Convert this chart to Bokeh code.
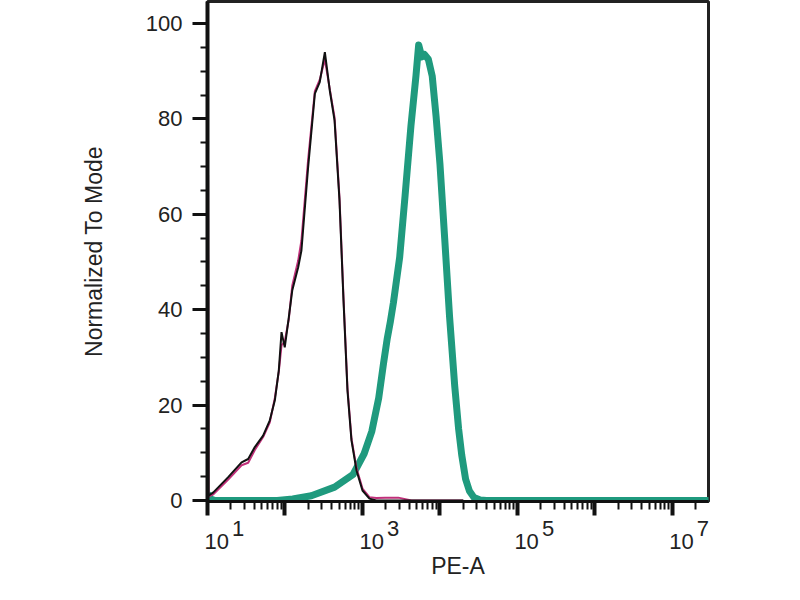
from bokeh.plotting import figure
from bokeh.models import Range1d, FixedTicker
from bokeh.embed import file_html
from bokeh.resources import INLINE

# PE-A intensity (x) and % of mode (y) for each histogram
black_x = [10.1, 10.3, 11.9, 18.5, 27.5, 33.5, 40.8, 52.2, 63.7, 74.0, 83.2, 90.2, 99.3, 112, 124, 148, 163,
           199, 243, 281, 327, 378, 436, 505, 569, 640, 721, 837, 1000, 1230, 1510, 20000]
black_y = [100, 1.0, 1.7, 4.9, 8.0, 8.7, 11.2, 13.6, 16.8, 21.0, 27.3, 35.3, 32.1, 38.4, 44.0, 48.9, 52.4,
           69.9, 85.3, 87.7, 94.0, 86.0, 79.7, 62.9, 41.9, 23.1, 12.6, 6.3, 2.1, 0.4, 0, 0]

pink_x = [10.1, 10.3, 11.9, 18.5, 27.5, 33.5, 40.8, 52.2, 63.7, 74.0, 83.2, 90.2, 99.3, 112, 124, 148, 163,
          199, 243, 281, 327, 378, 436, 505, 569, 640, 721, 837, 1000, 1230, 1510, 1950, 2890, 4290, 20000]
pink_y = [100, 0.8, 1.3, 4.4, 7.4, 7.9, 10.6, 13.3, 16.4, 21.5, 27.0, 32.5, 33.3, 38.0, 45.0, 50.3, 54.5,
          71.5, 85.8, 88.2, 92.5, 86.3, 80.3, 63.5, 42.5, 23.6, 13.0, 6.8, 2.5, 0.7, 0.5, 0.6, 0.6, 0, 0]

teal_x = [10.1, 11.0, 12.6, 79.4, 126, 219, 437, 759, 1050, 1320, 1620, 1860, 2090, 2290, 2510, 3020,
          3550, 4220, 4900, 5310, 5820, 6310, 7080, 7940, 8910, 10000, 11500, 13300, 15500, 17400,
          19100, 21400, 24000, 27500, 33100, 39800, 30000000]
teal_y = [1.5, 0.3, 0, 0, 0.3, 1.0, 2.8, 5.5, 9.8, 14.5, 21.5, 28.5, 34.0, 37.5, 41.5, 51.0,
          64.0, 78.5, 89.0, 95.5, 93.0, 93.5, 92.5, 89.0, 80.5, 70.5, 55.0, 38.5, 24.0, 15.0,
          9.5, 4.5, 2.0, 0.6, 0.1, 0, 0]

y_major = [0, 20, 40, 60, 80, 100]
y_minor = [0, 5, 10, 15, 20, 25, 30, 35, 40, 45, 50, 55, 60, 65, 70, 75, 80, 85, 90, 95, 100]
x_decades = [10, 100, 1000, 10000, 100000, 1000000, 10000000]
# exponent shown only on odd decades
x_exps = ["1", "", "3", "", "5", "", "7"]

FONT = "Liberation Sans"
INK = "#222222"
NB = "\u00a0"


def decade_label(exp):
    # raised exponent line over the "10", both nudged to sit right of the tick
    if not exp:
        return ""
    return NB * 10 + exp + "\n" + NB * 3 + "10"


def make_histogram_plot():
    p = figure(width=784, height=584, x_axis_type="log",
               x_range=Range1d(10, 2.92e7), y_range=Range1d(-0.21, 104.6),
               output_backend="svg", toolbar_location=None,
               min_border_left=207, min_border_right=76, min_border_top=1, min_border_bottom=83)
    p.xgrid.visible = False
    p.ygrid.visible = False
    p.outline_line_color = INK
    p.outline_line_width = 3

    p.line(teal_x, teal_y, line_color="#1f9a7e", line_width=7, line_join="round")
    p.line(pink_x, pink_y, line_color="#c0307a", line_width=2)
    p.line(black_x, black_y, line_color="#111111", line_width=2)

    # y axis
    ya = p.yaxis[0]
    ya.ticker = FixedTicker(ticks=y_major, minor_ticks=y_minor)
    ya.axis_label = "Normalized To Mode"
    ya.axis_line_width = 4
    ya.major_tick_out = 15
    ya.major_tick_line_width = 3
    ya.minor_tick_out = 7
    ya.minor_tick_line_width = 2
    ya.major_label_standoff = 10
    ya.axis_label_standoff = 36

    # x axis
    xa = p.xaxis[0]
    minors = [m * d for d in x_decades for m in range(2, 10)]
    xa.ticker = FixedTicker(ticks=x_decades, minor_ticks=minors)
    xa.major_label_overrides = {float(v): decade_label(e) for v, e in zip(x_decades, x_exps)}
    xa.major_label_text_line_height = 0.55
    xa.axis_label = "PE-A"
    xa.axis_line_width = 3
    xa.major_tick_out = 14
    xa.major_tick_line_width = 4
    xa.minor_tick_out = 8
    xa.minor_tick_line_width = 2
    xa.major_label_standoff = 0
    xa.axis_label_standoff = -4

    for ax in (xa, ya):
        ax.axis_line_color = "#111111"
        ax.major_tick_in = 0
        ax.minor_tick_in = 0
        ax.major_tick_line_color = "#111111"
        ax.minor_tick_line_color = "#111111"
        ax.major_label_text_font = FONT
        ax.major_label_text_font_size = "22px"
        ax.major_label_text_color = INK
        ax.axis_label_text_font = FONT
        ax.axis_label_text_font_size = "23px"
        ax.axis_label_text_font_style = "normal"
        ax.axis_label_text_color = INK
    return p


p = make_histogram_plot()
open("out.html", "w").write(file_html(p, INLINE))
